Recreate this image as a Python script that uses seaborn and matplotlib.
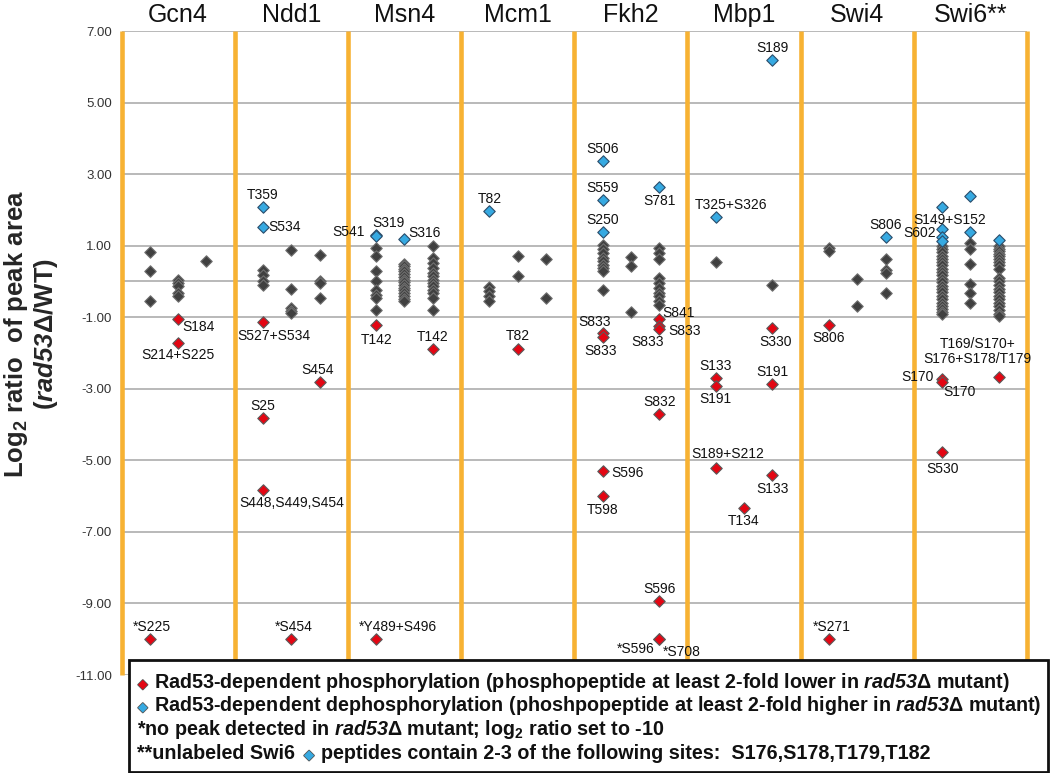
import matplotlib
matplotlib.use("Agg")
import matplotlib.pyplot as plt
import matplotlib.patheffects as pe
from matplotlib.patches import Rectangle
from matplotlib.ticker import FormatStrFormatter
import numpy as np
import pandas as pd
import seaborn as sns

factors = ["Gcn4", "Ndd1", "Msn4", "Mcm1", "Fkh2", "Mbp1", "Swi4", "Swi6**"]

# unchanged phosphopeptides, three columns per factor
gray_gcn4 = [[0.81, 0.28, -0.56], [0.05, -0.03, -0.12, -0.33, -0.42], [0.56]]
gray_ndd1 = [[0.32, 0.18, 0.02, -0.10], [0.88, -0.20, -0.75, -0.82, -0.88], [0.73, 0.02, -0.05, -0.47]]
gray_msn4 = [[0.93, 0.72, 0.28, 0.00, -0.23, -0.37, -0.47, -0.79],
             [0.50, 0.42, 0.35, 0.28, 0.20, 0.12, 0.05, -0.02, -0.10, -0.18, -0.25, -0.32, -0.40, -0.48, -0.55],
             [0.98, 0.65, 0.51, 0.37, 0.23, 0.14, 0.04, -0.05, -0.14, -0.23, -0.33, -0.47, -0.79]]
gray_mcm1 = [[-0.16, -0.28, -0.42, -0.56], [0.72, 0.16], [0.62, -0.47]]
gray_fkh2 = [[1.02, 0.90, 0.79, 0.65, 0.56, 0.46, 0.37, 0.28, -0.23], [0.68, 0.44, -0.86],
             [0.93, 0.79, 0.62, 0.09, -0.05, -0.19, -0.31, -0.42, -0.56, -0.65]]
gray_mbp1 = [[0.53], [], [-0.11]]
gray_swi4 = [[0.93, 0.84], [0.06, -0.68], [0.62, 0.32, 0.23, -0.31]]
gray_swi6 = [[1.00, 0.92, 0.82, 0.72, 0.63, 0.54, 0.45, 0.36, 0.27, 0.18, 0.08, -0.02, -0.12, -0.21, -0.30,
              -0.40, -0.50, -0.60, -0.69, -0.77, -0.85, -0.92],
             [1.07, 0.90, 0.49, -0.07, -0.33, -0.59],
             [1.00, 0.92, 0.85, 0.77, 0.70, 0.62, 0.55, 0.45, 0.35, 0.10, 0.00, -0.10, -0.20, -0.30,
              -0.40, -0.50, -0.60, -0.70, -0.80, -0.90, -0.97]]
gray_values = [gray_gcn4, gray_ndd1, gray_msn4, gray_mcm1, gray_fkh2, gray_mbp1, gray_swi4, gray_swi6]

# Rad53-dependent dephosphorylation (factor, column, log2 ratio, site)
blue_sites = [
    ("Ndd1", 1, 2.07, "T359"), ("Ndd1", 1, 1.52, "S534"),
    ("Msn4", 1, 1.30, "S319"), ("Msn4", 1, 1.27, "S541"), ("Msn4", 2, 1.20, "S316"),
    ("Mcm1", 1, 1.98, "T82"),
    ("Fkh2", 1, 3.36, "S506"), ("Fkh2", 1, 2.27, "S559"), ("Fkh2", 1, 1.38, "S250"), ("Fkh2", 3, 2.63, "S781"),
    ("Mbp1", 1, 1.81, "T325+S326"), ("Mbp1", 3, 6.18, "S189"),
    ("Swi4", 3, 1.25, "S806"),
    ("Swi6**", 1, 2.07, ""), ("Swi6**", 1, 1.46, "S149+S152"), ("Swi6**", 1, 1.25, "S602"),
    ("Swi6**", 1, 1.12, ""), ("Swi6**", 2, 2.40, ""), ("Swi6**", 2, 1.37, ""), ("Swi6**", 3, 1.16, ""),
]
blue_offsets = [(0, 12), (22, 0), (12, 12), (-28, 4), (20, 6), (0, 12), (0, 12), (0, 12), (0, 12), (0, -14),
                (15, 12), (0, 12), (0, 12), (0, 0), (8, 9), (-22, 4), (0, 0), (0, 0), (0, 0), (0, 0)]

# Rad53-dependent phosphorylation
red_sites = [
    ("Gcn4", 2, -1.05, "S184"), ("Gcn4", 2, -1.71, "S214+S225"), ("Gcn4", 1, -10.0, "*S225"),
    ("Ndd1", 1, -1.13, "S527+S534"), ("Ndd1", 1, -3.82, "S25"), ("Ndd1", 1, -5.83, "S448,S449,S454"),
    ("Ndd1", 2, -10.0, "*S454"), ("Ndd1", 3, -2.81, "S454"),
    ("Msn4", 1, -1.21, "T142"), ("Msn4", 3, -1.89, "T142"), ("Msn4", 1, -10.0, "*Y489+S496"),
    ("Mcm1", 2, -1.88, "T82"),
    ("Fkh2", 1, -1.44, "S833"), ("Fkh2", 1, -1.55, "S833"), ("Fkh2", 1, -5.31, "S596"), ("Fkh2", 1, -5.99, "T598"),
    ("Fkh2", 3, -1.05, "S841"), ("Fkh2", 3, -1.25, "S833"), ("Fkh2", 3, -1.32, "S833"), ("Fkh2", 3, -3.71, "S832"),
    ("Fkh2", 3, -8.94, "S596"), ("Fkh2", 3, -10.0, "*S596"), ("Fkh2", 3, -10.0, "*S708"),
    ("Mbp1", 1, -2.70, "S133"), ("Mbp1", 1, -2.92, "S191"), ("Mbp1", 1, -5.21, "S189+S212"),
    ("Mbp1", 2, -6.33, "T134"), ("Mbp1", 3, -1.30, "S330"), ("Mbp1", 3, -2.87, "S191"), ("Mbp1", 3, -5.40, "S133"),
    ("Swi4", 1, -1.21, "S806"), ("Swi4", 1, -10.0, "*S271"),
    ("Swi6**", 1, -2.72, "S170"), ("Swi6**", 1, -2.80, "S170"), ("Swi6**", 1, -4.78, "S530"),
    ("Swi6**", 3, -2.68, "T169/S170+\nS176+S178/T179"),
]
red_offsets = [(20, -8), (0, -12), (2, 12),
               (11, -14), (0, 12), (29, -13), (2, 12), (-2, 12),
               (0, -15), (0, 12), (22, 12),
               (0, 13),
               (-8, 11), (-2, -14), (25, -2), (0, -14),
               (19, 6), (25, -5), (-12, -13), (0, 12), (0, 12), (-23, -10), (23, -13),
               (0, 12), (0, -13), (12, 14), (0, -13), (3, -14), (0, 12), (0, -14),
               (0, -13), (3, 12),
               (-25, 2), (17, -10), (0, -17), (-21, 26)]

yticks = np.arange(-11, 8, 2)

# \mathrm is mapped to bold italic (italic digits), \mathsf to bold upright
legend_red = "Rad53-dependent phosphorylation (phosphopeptide at least 2-fold lower in $\\mathrm{rad53}$\u0394 mutant)"
legend_blue = "Rad53-dependent dephosphorylation (phoshpopeptide at least 2-fold higher in $\\mathrm{rad53}$\u0394 mutant)"
legend_star = "*no peak detected in $\\mathrm{rad53}$\u0394 mutant; log$_\\mathsf{2}$ ratio set to -10"
legend_swi6_a = "**unlabeled Swi6"
legend_swi6_b = "peptides contain 2-3 of the following sites:  S176,S178,T179,T182"
ylabel = "Log$_\\mathsf{2}$ ratio  of peak area\n($\\mathrm{rad53}$\u0394/WT)"


def slot(name, col):
    return 4 * factors.index(name) + col


gray_rows = []
for fi, cols in enumerate(gray_values):
    for ci, vals in enumerate(cols):
        for v in vals:
            gray_rows.append({"x": 4 * fi + ci + 1, "y": v})
gray_df = pd.DataFrame(gray_rows)
blue_df = pd.DataFrame([{"x": slot(f, c), "y": v, "label": s} for f, c, v, s in blue_sites])
red_df = pd.DataFrame([{"x": slot(f, c), "y": v, "label": s} for f, c, v, s in red_sites])

sns.set_style("white")
plt.rcParams["font.family"] = ["Liberation Sans", "DejaVu Sans"]
plt.rcParams["mathtext.fontset"] = "custom"
plt.rcParams["mathtext.rm"] = "Liberation Sans:italic:bold"
plt.rcParams["mathtext.it"] = "Liberation Sans:italic:bold"
plt.rcParams["mathtext.sf"] = "Liberation Sans:bold"
plt.rcParams["mathtext.bf"] = "Liberation Sans:bold"

W, H = 1050, 773
fig = plt.figure(figsize=(W / 100, H / 100), dpi=100)
ax = fig.add_axes([121.5 / W, 1 - 675 / H, (1027 - 121.5) / W, (675 - 31) / H])

ax.set_xlim(0, 32)
ax.set_ylim(-11, 7)
ax.set_xticks([])
ax.set_yticks(yticks)
ax.yaxis.set_major_formatter(FormatStrFormatter("%.2f"))
ax.tick_params(axis="y", length=4, width=1, color="#a0a0a0", labelsize=9.5, labelcolor="#333333", pad=3)
for sp in ax.spines.values():
    sp.set_visible(False)
ax.set_axisbelow(True)
ax.yaxis.grid(True, color="#a6a6a6", lw=1.1)
ax.axhline(0, color="#a6a6a6", lw=1.1, zorder=0.5)
ax.vlines(np.arange(0, 33, 4), -11, 7, color="#f7b233", lw=3.3, zorder=1, clip_on=False)

sns.scatterplot(data=gray_df, x="x", y="y", ax=ax, marker="D", s=34, color="#404040",
                edgecolor="#707070", linewidth=0.8, zorder=3, legend=False)
sns.scatterplot(data=blue_df, x="x", y="y", ax=ax, marker="D", s=34, color="#36a9e1",
                edgecolor="#2b4c6a", linewidth=0.8, zorder=4, legend=False)
sns.scatterplot(data=red_df, x="x", y="y", ax=ax, marker="D", s=34, color="#e30613",
                edgecolor="#5a5a5a", linewidth=0.8, zorder=5, legend=False)
ax.set_xlabel("")
ax.set_ylabel("")

for df, offs in [(blue_df, blue_offsets), (red_df, red_offsets)]:
    for (x, y, lab), (dx, dy) in zip(df[["x", "y", "label"]].values, offs):
        if lab:
            ax.annotate(lab, (x, y), xytext=(dx, dy), textcoords="offset pixels",
                        ha="center", va="center", fontsize=10, color="#111111",
                        linespacing=1.05, zorder=6)

for i, name in enumerate(factors):
    ax.text(4 * i + 2, 1 + 16 / 644, name, transform=ax.get_xaxis_transform(),
            ha="center", va="center", fontsize=18, color="#111111")

fig.text(31 / W, 1 - 334 / H, ylabel, rotation=90, ha="center", va="center",
         fontsize=18.5, fontweight="bold", linespacing=1.1, multialignment="center")

# legend box
fig.patches.append(Rectangle((129 / W, 1 - 772 / H), (1048 - 129) / W, (772 - 660) / H,
                             transform=fig.transFigure, facecolor="white", edgecolor="#111111",
                             lw=2, zorder=2))
stroke = [pe.withStroke(linewidth=1.2, foreground="#555555")]
leg_kw = dict(fontsize=14.2, fontweight="bold", color="#111111", va="baseline", zorder=3)
fig.text(138 / W, 1 - 688 / H, "\u25c6", fontsize=9, color="#e30613", va="baseline",
         path_effects=stroke, zorder=3)
fig.text(154 / W, 1 - 688 / H, legend_red, **leg_kw)
fig.text(138 / W, 1 - 711 / H, "\u25c6", fontsize=9, color="#36a9e1", va="baseline",
         path_effects=stroke, zorder=3)
fig.text(154 / W, 1 - 711 / H, legend_blue, **leg_kw)
fig.text(137 / W, 1 - 735 / H, legend_star, **leg_kw)

# last line: text, blue diamond, text, laid out one after the other
renderer = fig.canvas.get_renderer()
t1 = fig.text(137 / W, 1 - 759 / H, legend_swi6_a, **leg_kw)
x_px = t1.get_window_extent(renderer).x1 + 9
t2 = fig.text(x_px / W, 1 - 759 / H, "\u25c6", fontsize=9.5, color="#36a9e1", va="baseline",
              path_effects=stroke, zorder=3)
x_px = t2.get_window_extent(renderer).x1 + 7
fig.text(x_px / W, 1 - 759 / H, legend_swi6_b, **leg_kw)

fig.savefig("out.png", dpi=100)
